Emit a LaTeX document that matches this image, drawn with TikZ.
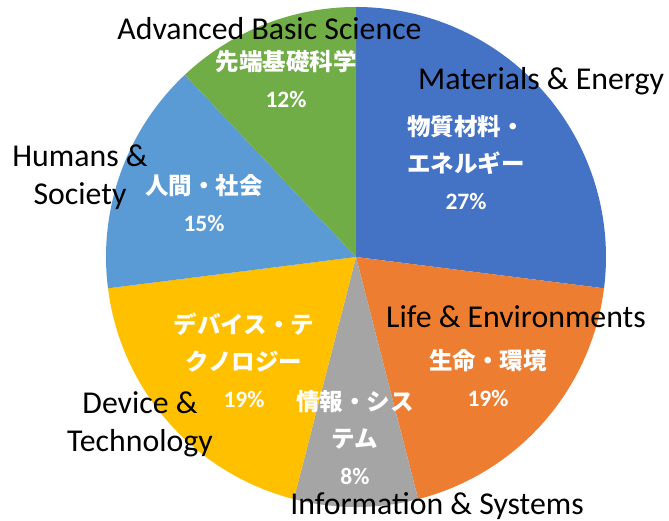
\documentclass[tikz,border=0pt]{standalone}
\usepackage{fontspec}
\setmainfont{Carlito}
\newfontfamily\cjk{Noto Sans CJK JP}
\definecolor{cMat}{HTML}{4472C4}
\definecolor{cLife}{HTML}{ED7D31}
\definecolor{cInfo}{HTML}{A5A5A5}
\definecolor{cDev}{HTML}{FFC000}
\definecolor{cHum}{HTML}{5B9BD5}
\definecolor{cSci}{HTML}{70AD47}
\begin{document}
\begin{tikzpicture}[x=1pt,y=1pt,
  jp/.style={inner sep=0pt, align=center, text=white, font=\cjk\bfseries\fontsize{23.5}{37}\selectfont},
  en/.style={inner sep=0pt, align=center, text=black, font=\fontsize{31.8}{38}\selectfont}]
\useasboundingbox (0,0) rectangle (669,521);
\coordinate (C) at (356,264);
\def\R{250}
\newcommand\pieslice[3]{\fill[#1] (C) -- ++(#2:\R) arc[start angle=#2, end angle=#3, radius=\R] -- cycle;}
\pieslice{cMat}{90}{-7.2}
\pieslice{cLife}{-7.2}{-75.6}
\pieslice{cInfo}{-75.6}{-104.4}
\pieslice{cDev}{-104.4}{-172.8}
\pieslice{cHum}{-172.8}{-226.8}
\pieslice{cSci}{-226.8}{-270}
% Japanese labels
\node[jp] (jmat) at (466,358) {物質材料・\\エネルギー\\{\rmfamily 27\%}};
\node[jp] (jsci) at (286,442.5) {先端基礎科学\\{\rmfamily 12\%}};
\node[jp] (jhum) at (204,318) {人間・社会\\{\rmfamily 15\%}};
\node[jp] (jlife) at (488,142.5) {生命・環境\\{\rmfamily 19\%}};
\node[jp] (jdev) at (244,161) {デバイス・テ\\クノロジー\\{\rmfamily 19\%}};
\node[jp] (jinfo) at (355,83) {情報・シス\\テム\\{\rmfamily 8\%}};
% English labels
\node[en] (esci) at (269.5,492) {Advanced Basic Science};
\node[en] (emat) at (541,440) {Materials \& Energy};
\node[en] (ehum) at (80,344) {Humans \&\\Society};
\node[en] (elife) at (516,204) {Life \& Environments};
\node[en] (edev) at (140,97) {Device \&\\Technology};
\node[en] (einfo) at (437,15) {Information \& Systems};
\end{tikzpicture}
\end{document}
